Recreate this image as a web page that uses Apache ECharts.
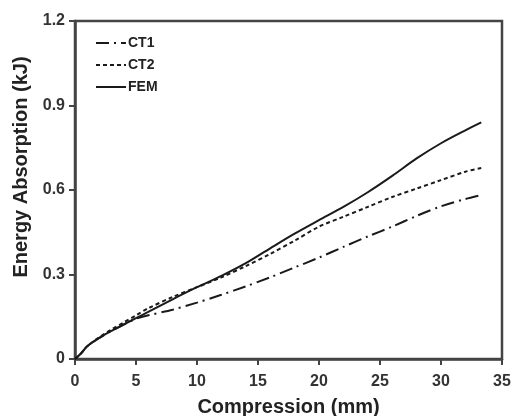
<!DOCTYPE html>
<html><head><meta charset="utf-8">
<script src="https://cdn.jsdelivr.net/npm/echarts@6/dist/echarts.min.js"></script>
<style>html,body{margin:0;padding:0;background:#fff}#c{width:515px;height:416px}</style>
</head><body><div id="c"></div>
<script>
const compression = [0, 0.5, 1, 2, 3, 4, 5, 6, 8, 10, 12, 14, 16, 18, 20, 22, 24, 26, 28, 30, 32, 33.3];
const ct1 = [0, 0.02, 0.045, 0.075, 0.1, 0.122, 0.143, 0.155, 0.175, 0.2, 0.228, 0.258, 0.29, 0.325, 0.36, 0.398, 0.435, 0.47, 0.508, 0.542, 0.568, 0.582];
const ct2 = [0, 0.02, 0.045, 0.078, 0.105, 0.13, 0.155, 0.18, 0.22, 0.255, 0.29, 0.33, 0.373, 0.42, 0.47, 0.505, 0.54, 0.575, 0.605, 0.635, 0.665, 0.678];
const fem = [0, 0.02, 0.045, 0.075, 0.1, 0.123, 0.145, 0.167, 0.212, 0.255, 0.295, 0.34, 0.393, 0.445, 0.493, 0.54, 0.592, 0.65, 0.712, 0.766, 0.812, 0.84];
const xTicks = [0, 5, 10, 15, 20, 25, 30, 35];
const yTicks = [0, 0.3, 0.6, 0.9, 1.2];
const names = ['CT1', 'CT2', 'FEM'];

const pair = arr => compression.map((x, i) => [x, arr[i]]);
const font = 'Liberation Sans, Arial, sans-serif';
const chart = echarts.init(document.getElementById('c'));
const lineColor = '#1a1a1a';
function mk(name, data, type) {
  return {
    name, type: 'line', data: pair(data), showSymbol: false, symbol: 'none', smooth: 0.3,
    lineStyle: { color: lineColor, width: 2, type },
    itemStyle: { color: lineColor }
  };
}
chart.setOption({
  animation: false,
  backgroundColor: '#fff',
  grid: { left: 75, right: 13, top: 21, bottom: 57, containLabel: false, outerBoundsMode: 'none',
    show: true, borderColor: '#444', borderWidth: 2.5 },
  legend: {
    orient: 'vertical', left: 90, top: 31, itemWidth: 30, itemHeight: 14, itemGap: 8,
    itemStyle: { opacity: 0 },
    textStyle: { fontFamily: font, fontWeight: 'bold', fontSize: 14, color: '#222', padding: [0, 0, 0, -3] },
    data: names
  },
  xAxis: {
    type: 'value', min: xTicks[0], max: xTicks[xTicks.length - 1], interval: 5,
    name: 'Compression (mm)', nameLocation: 'middle', nameGap: 38,
    nameTextStyle: { fontFamily: font, fontWeight: 'bold', fontSize: 20, color: '#222' },
    axisLine: { show: true, lineStyle: { color: '#444', width: 2.5 } },
    axisTick: { show: true, length: 6, lineStyle: { color: '#444', width: 2 } },
    axisLabel: { fontFamily: font, fontWeight: 'bold', fontSize: 16, color: '#333', margin: 15 },
    splitLine: { show: false }
  },
  yAxis: {
    type: 'value', min: yTicks[0], max: yTicks[yTicks.length - 1], interval: 0.3,
    name: 'Energy Absorption (kJ)', nameLocation: 'middle', nameGap: 44,
    nameTextStyle: { fontFamily: font, fontWeight: 'bold', fontSize: 20, color: '#222', padding: [0, 0, 0, 46] },
    axisLine: { show: true, lineStyle: { color: '#444', width: 2.5 } },
    axisTick: { show: true, length: 6, lineStyle: { color: '#444', width: 2 } },
    axisLabel: { fontFamily: font, fontWeight: 'bold', fontSize: 16, color: '#333', margin: 10,
      formatter: v => (v === 0 ? '0' : v.toFixed(1)) },
    splitLine: { show: false }
  },
  series: [
    mk(names[0], ct1, [13, 5, 2, 5]),
    mk(names[1], ct2, [4, 3]),
    mk(names[2], fem, 'solid')
  ]
});
</script></body></html>
